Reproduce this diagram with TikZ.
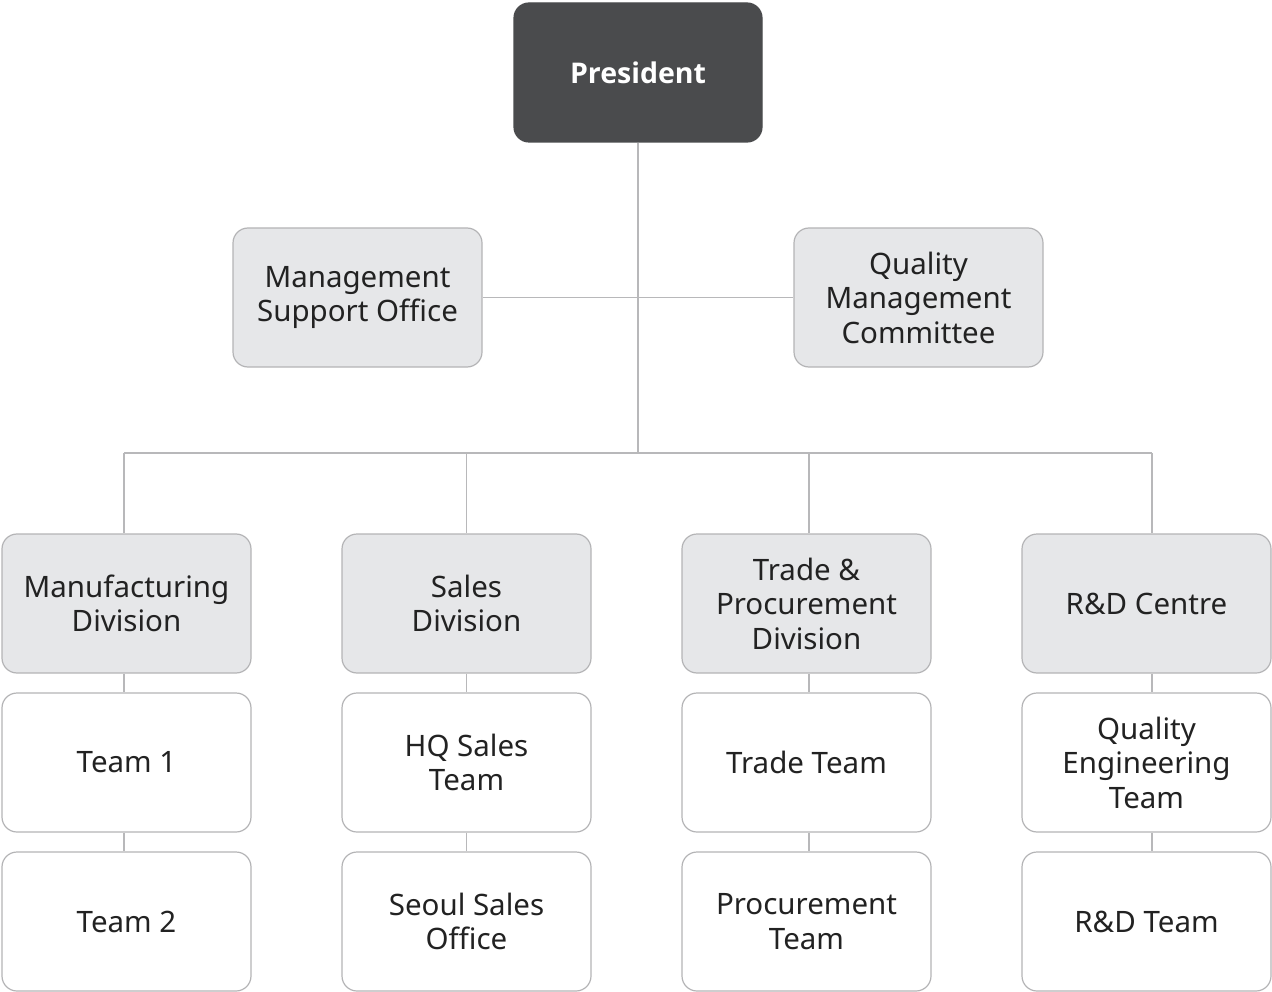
\documentclass[tikz,border=0pt]{standalone}
\usepackage{fontspec}
\setmainfont{Noto Sans}
\newfontfamily\presfont{Open Sans}
\definecolor{darkbox}{HTML}{4A4B4D}
\definecolor{lightbox}{HTML}{E6E7E9}
\definecolor{boxline}{HTML}{B4B4B6}
\definecolor{conn}{HTML}{B8B8BA}
\definecolor{txt}{HTML}{222222}
\begin{document}
\begin{tikzpicture}[x=1pt,y=-1pt,
  orgbox/.style={rectangle, rounded corners=15pt, minimum width=249pt, minimum height=139pt,
    inner sep=0pt, align=center, draw=boxline, line width=1.2pt, text=txt,
    font=\fontsize{29.5}{34.5}\selectfont},
  topbox/.style={orgbox, fill=darkbox, draw=darkbox, text=white, minimum width=248pt,
    font=\presfont\bfseries\fontsize{28.5}{34.5}\selectfont},
  graybox/.style={orgbox, fill=lightbox},
  whitebox/.style={orgbox, fill=white},
  link/.style={draw=conn, line width=1.5pt}]
\useasboundingbox (0,0) rectangle (1272,992);

\coordinate (bus) at (638,453);
\coordinate (b1) at (124,453);
\coordinate (b2) at (466.5,453);
\coordinate (b3) at (809,453);
\coordinate (b4) at (1152,453);

\node[topbox] (pres) at (638,72.5) {President};
\node[graybox] (mso) at (357.5,297.5) {Management\\Support Office};
\node[graybox] (qmc) at (918.5,297.5) {Quality\\Management\\Committee};

\node[graybox] (man) at (126.5,603.5) {Manufacturing\\Division};
\node[graybox] (sal) at (466.5,603.5) {Sales\\Division};
\node[graybox] (tra) at (806.5,603.5) {Trade \&\\Procurement\\Division};
\node[graybox] (rnd) at (1146.5,603.5) {R\&D Centre};

\node[whitebox] (t1) at (126.5,762.5) {Team 1};
\node[whitebox] (hq) at (466.5,762.5) {HQ Sales\\Team};
\node[whitebox] (tt) at (806.5,762.5) {Trade Team};
\node[whitebox] (qe) at (1146.5,762.5) {Quality\\Engineering\\Team};

\node[whitebox] (t2) at (126.5,921.5) {Team 2};
\node[whitebox] (sso) at (466.5,921.5) {Seoul Sales\\Office};
\node[whitebox] (pt) at (806.5,921.5) {Procurement\\Team};
\node[whitebox] (rt) at (1146.5,921.5) {R\&D Team};

\path[link] (pres.south) -- (bus);
\path[link] (mso.east) -- (qmc.west);
\path[link] (b1) -- (b4);
\path[link] (b1) -- (b1 |- man.north);
\path[link] (b2) -- (b2 |- sal.north);
\path[link] (b3) -- (b3 |- tra.north);
\path[link] (b4) -- (b4 |- rnd.north);

\path[link] (b1 |- man.south) -- (b1 |- t1.north);
\path[link] (b2 |- sal.south) -- (b2 |- hq.north);
\path[link] (b3 |- tra.south) -- (b3 |- tt.north);
\path[link] (b4 |- rnd.south) -- (b4 |- qe.north);

\path[link] (b1 |- t1.south) -- (b1 |- t2.north);
\path[link] (b2 |- hq.south) -- (b2 |- sso.north);
\path[link] (b3 |- tt.south) -- (b3 |- pt.north);
\path[link] (b4 |- qe.south) -- (b4 |- rt.north);
\end{tikzpicture}
\end{document}
